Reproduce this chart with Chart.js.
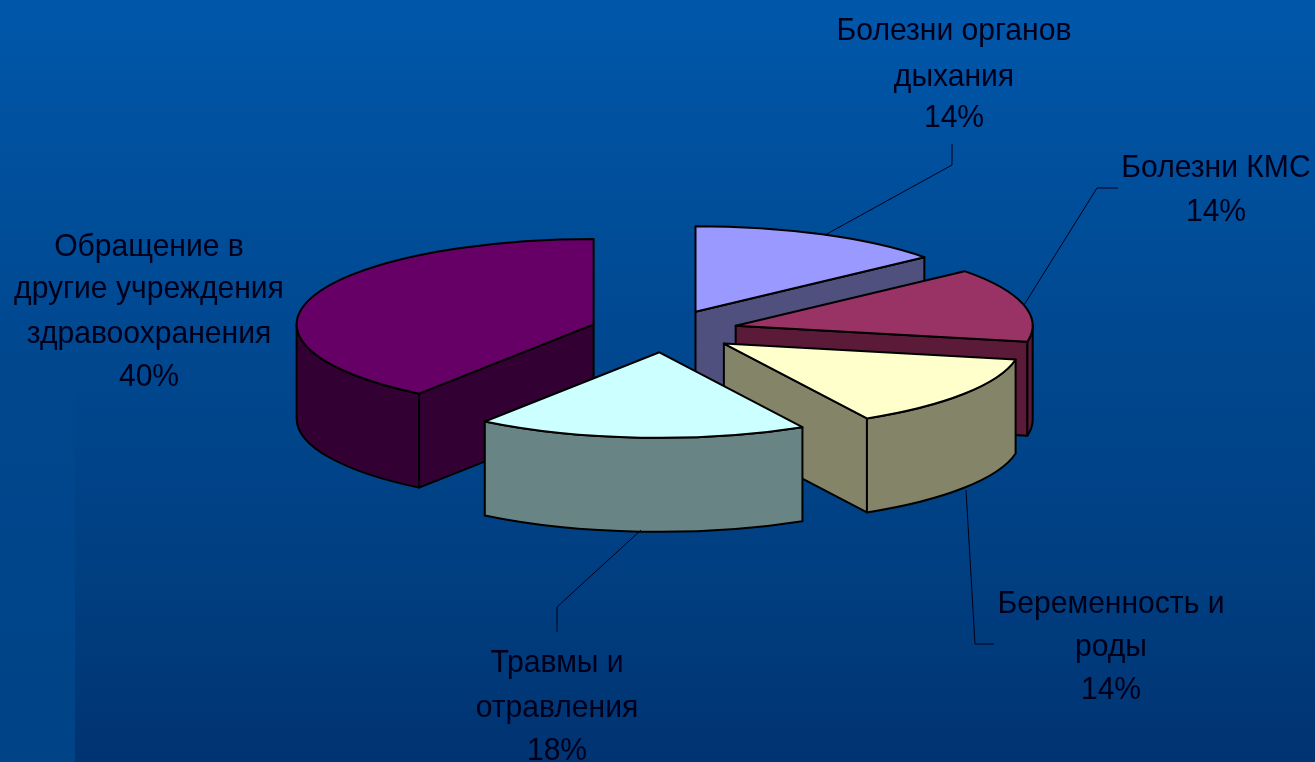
<!DOCTYPE html>
<html><head><meta charset="utf-8">
<script src="https://cdn.jsdelivr.net/npm/chart.js@4"></script>
<style>html,body{margin:0;padding:0;background:#004a94;overflow:hidden}#w{width:1315px;height:762px;position:relative}</style>
</head><body><div id="w"><canvas id="c" width="1315" height="762"></canvas></div>
<script>
const categories = ['Болезни органов дыхания','Болезни КМС','Беременность и роды','Травмы и отравления','Обращение в другие учреждения здравоохранения'];
const values = [14,14,14,18,40];
const topColors = ['#9999FF','#993366','#FFFFCC','#CCFFFF','#660066'];
const wallColors = ['#50507F','#5A1A38','#848468','#688484','#330033'];
const labelLines = [
  ['Болезни органов','дыхания','14%'],
  ['Болезни КМС','14%'],
  ['Беременность и','роды','14%'],
  ['Травмы и','отравления','18%'],
  ['Обращение в','другие учреждения','здравоохранения','40%']
];
const labelLayout = [
  {x:954,y:[40,86,127]},
  {x:1216,y:[177,221]},
  {x:1111,y:[613,656,699]},
  {x:557,y:[672,717,760]},
  {x:149,y:[256,298,343,386]}
];
const leaders = [
  [[952,144],[952,165],[825,235]],
  [[1118,188],[1097,188],[1024,305]],
  [[966,490],[975,644],[994,644]],
  [[641,530],[557,607],[557,632]],
  []
];
const RADIUS=297, SQUASH=0.288, DEPTH=94, EXPLODE=74;

const pie3d = {
  id:'pie3d',
  beforeDraw(chart){
    const {ctx,width,height}=chart;
    const g=ctx.createLinearGradient(0,0,0,height);
    g.addColorStop(0,'#0057AA');g.addColorStop(0.3,'#004D98');g.addColorStop(0.8,'#003D7E');g.addColorStop(1,'#003372');
    ctx.fillStyle=g;ctx.fillRect(0,0,width,height);
    const s=ctx.createLinearGradient(0,381,0,height);
    s.addColorStop(0,'#00478E');s.addColorStop(1,'#004386');
    ctx.fillStyle=s;ctx.fillRect(0,381,75,height-381);
  },
  beforeDatasetsDraw(chart){
    const ctx=chart.ctx, arcs=chart.getDatasetMeta(0).data;
    const items=arcs.map((arc,i)=>{
      const mid=(arc.startAngle+arc.endAngle)/2;
      return {arc,i,mid,dx:Math.cos(mid)*EXPLODE,dy:Math.sin(mid)*EXPLODE*SQUASH};
    }).sort((a,b)=>Math.sin(a.mid)-Math.sin(b.mid));
    ctx.lineWidth=2;ctx.strokeStyle='#000';ctx.lineJoin='round';
    for(const it of items){
      const {arc,i,dx,dy}=it;
      const cx=arc.x+dx, cy=arc.y+dy, r=arc.outerRadius;
      const a0=arc.startAngle, a1=arc.endAngle;
      const P=(a,d=0)=>[cx+Math.cos(a)*r, cy+Math.sin(a)*r*SQUASH+d];
      const ell=(from,to,d,ccw)=>{ctx.ellipse(cx,cy+d,r,r*SQUASH,0,from,to,ccw);};
      ctx.fillStyle=wallColors[i];
      const cuts=[];
      if(Math.cos(a0)<-1e-6) cuts.push(a0);
      if(Math.cos(a1)>1e-6) cuts.push(a1);
      for(const a of cuts){
        const p=P(a);
        ctx.beginPath();ctx.moveTo(cx,cy);ctx.lineTo(p[0],p[1]);ctx.lineTo(p[0],p[1]+DEPTH);ctx.lineTo(cx,cy+DEPTH);ctx.closePath();
        ctx.fill();ctx.stroke();
      }
      for(const [s,e] of [[a0,a1],[a0-2*Math.PI,a1-2*Math.PI]]){
        const from=Math.max(s,0), to=Math.min(e,Math.PI);
        if(to>from){
          ctx.beginPath();ell(from,to,0,false);ell(to,from,DEPTH,true);ctx.closePath();
          ctx.fill();ctx.stroke();
        }
      }
      ctx.save();
      ctx.translate(dx,arc.y+dy);ctx.scale(1,SQUASH);ctx.translate(0,-arc.y);
      arc.draw(ctx);
      ctx.restore();
      ctx.beginPath();ctx.moveTo(cx,cy);ell(a0,a1,0,false);ctx.closePath();ctx.stroke();
    }
    return false;
  },
  afterDraw(chart){
    const ctx=chart.ctx;
    ctx.strokeStyle='#00001a';ctx.lineWidth=1;
    for(const l of leaders){
      if(!l.length)continue;
      ctx.beginPath();l.forEach((p,i)=>i?ctx.lineTo(p[0],p[1]):ctx.moveTo(p[0],p[1]));ctx.stroke();
    }
    ctx.fillStyle='#00001a';ctx.textAlign='center';ctx.textBaseline='alphabetic';
    ctx.font='32px "Liberation Sans"';
    labelLines.forEach((lines,i)=>{
      lines.forEach((t,j)=>{
        ctx.save();
        ctx.translate(labelLayout[i].x,labelLayout[i].y[j]);
        ctx.scale(0.94,1);
        ctx.fillText(t,0,0);
        ctx.restore();
      });
    });
  }
};

new Chart(document.getElementById('c'),{
  type:'pie',
  data:{labels:categories,datasets:[{data:values,backgroundColor:topColors,borderWidth:0,radius:RADIUS}]},
  options:{
    responsive:false,animation:false,
    layout:{padding:{left:13,bottom:100}},
    plugins:{legend:{display:false},tooltip:{enabled:false},title:{display:false}}
  },
  plugins:[pie3d]
});
</script></body></html>
